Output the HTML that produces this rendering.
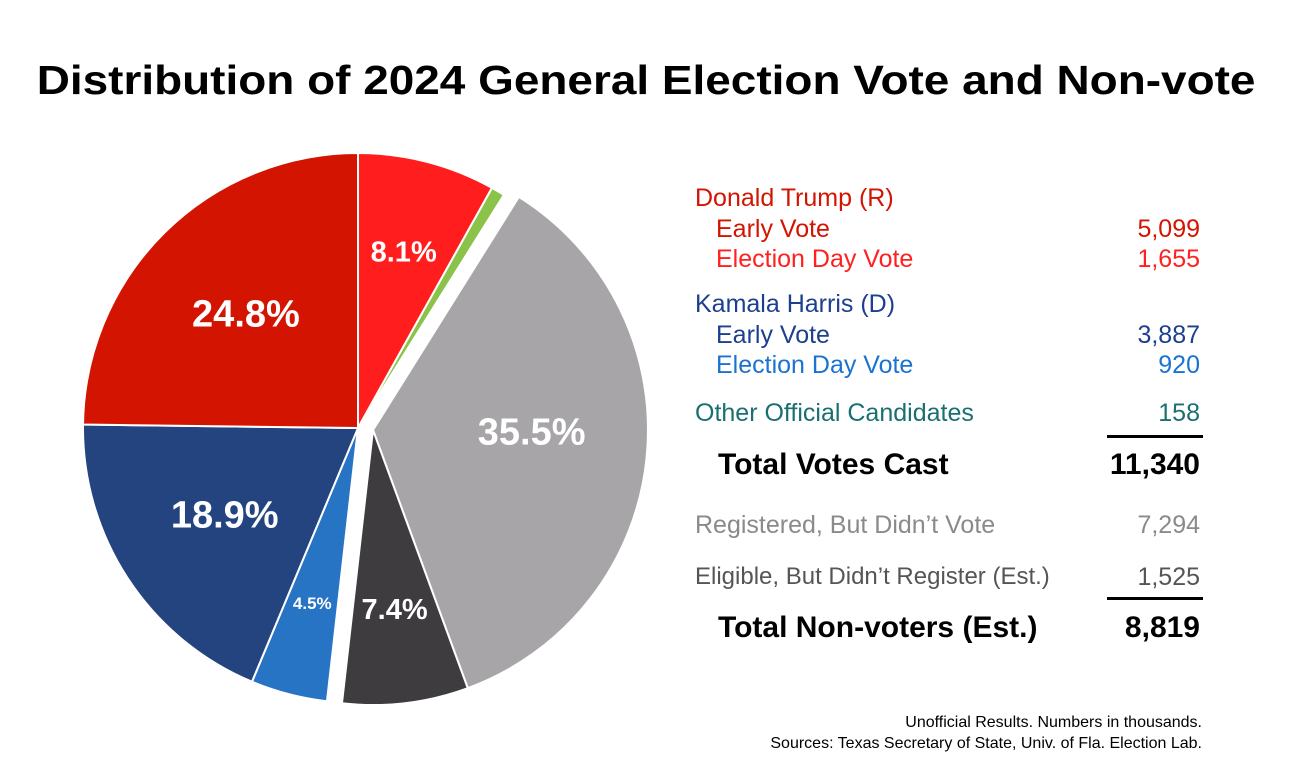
<!DOCTYPE html>
<html><head><meta charset="utf-8">
<style>
body{margin:0;width:1292px;height:775px;background:#fff;overflow:hidden;font-family:"Liberation Sans",sans-serif;position:relative}
.t{position:absolute;white-space:nowrap;line-height:1;font-size:25px}
.r{text-align:right}
.b{font-size:30px;font-weight:bold}
</style></head><body>
<div style="position:absolute;left:0;width:1292px;text-align:center;top:60px;line-height:1"><span style="display:inline-block;transform:scaleX(1.12);font-size:41px;font-weight:bold;color:#000;white-space:nowrap">Distribution of 2024 General Election Vote and Non-vote</span></div>
<svg id="pie" width="1292" height="775" style="position:absolute;left:0;top:0"></svg>
<div>
<div class="t" style="left:695px;top:186px;color:#d31400">Donald Trump (R)</div>
<div class="t" style="left:716px;top:217px;color:#d31400">Early Vote</div>
<div class="t r" style="right:92px;top:217px;color:#d31400">5,099</div>
<div class="t" style="left:716px;top:247px;color:#ff2020">Election Day Vote</div>
<div class="t r" style="right:92px;top:247px;color:#ff2020">1,655</div>
<div class="t" style="left:695px;top:292px;color:#1d3f8f">Kamala Harris (D)</div>
<div class="t" style="left:716px;top:323px;color:#1d3f8f">Early Vote</div>
<div class="t r" style="right:92px;top:323px;color:#1d3f8f">3,887</div>
<div class="t" style="left:716px;top:353px;color:#1a73d0">Election Day Vote</div>
<div class="t r" style="right:92px;top:353px;color:#1a73d0">920</div>
<div class="t" style="left:695px;top:401px;color:#1a7070">Other Official Candidates</div>
<div class="t r" style="right:92px;top:401px;color:#1a7070">158</div>
<div style="position:absolute;left:1107px;top:435px;width:96px;height:3px;background:#000"></div>
<div class="t b" style="left:718px;top:450px">Total Votes Cast</div>
<div class="t r b" style="right:92px;top:450px">11,340</div>
<div class="t" style="left:695px;top:513px;color:#8a8a8a">Registered, But Didn’t Vote</div>
<div class="t r" style="right:92px;top:513px;color:#8a8a8a">7,294</div>
<div class="t" style="left:695px;top:565px;color:#555;font-size:24px">Eligible, But Didn’t Register (Est.)</div>
<div class="t r" style="right:92px;top:565px;color:#555">1,525</div>
<div style="position:absolute;left:1107px;top:597px;width:96px;height:3px;background:#000"></div>
<div class="t b" style="left:718px;top:613px">Total Non-voters (Est.)</div>
<div class="t r b" style="right:92px;top:613px">8,819</div>
</div>
<div class="t r" style="right:90px;top:715px;font-size:16px">Unofficial Results. Numbers in thousands.</div>
<div class="t r" style="right:90px;top:736px;font-size:16px">Sources: Texas Secretary of State, Univ. of Fla. Election Lab.</div>
<script>
const sliceNames=["trump-election-day","other","registered-no-vote","eligible-not-registered","harris-election-day","harris-early","trump-early"];
const sliceValues=[8.1,0.8,35.5,7.4,4.5,18.9,24.8];
const sliceLabels=["8.1%","","35.5%","7.4%","4.5%","18.9%","24.8%"];
const sliceColors=["#ff1d1d","#8bc34a","#a7a5a8","#3e3c3f","#2773c4","#23447f","#d31400"];
const exploded=[false,false,true,true,false,false,false];
const svg=document.getElementById('pie');
const NS='http://www.w3.org/2000/svg';
const cx=358,cy=428,R=275;
const total=sliceValues.reduce((a,b)=>a+b,0);
const ang=v=>v/total*2*Math.PI;
const dx=15,dy=2;
let s=0;
sliceValues.forEach((v,i)=>{
  const a0=s,a1=s+ang(v);s=a1;
  const ox=exploded[i]?dx:0,oy=exploded[i]?dy:0;
  const x=cx+ox,y=cy+oy;
  const p=(a)=>[x+R*Math.sin(a),y-R*Math.cos(a)];
  const [x0,y0]=p(a0),[x1,y1]=p(a1);
  const path=document.createElementNS(NS,'path');
  path.setAttribute('d',`M${x},${y}L${x0},${y0}A${R},${R} 0 ${a1-a0>Math.PI?1:0} 1 ${x1},${y1}Z`);
  path.setAttribute('fill',sliceColors[i]);
  path.setAttribute('stroke','#fff');
  path.setAttribute('stroke-width','2');
  
  
  svg.appendChild(path);
  if(sliceLabels[i]){
    const am=(a0+a1)/2;
    const small=v<6;
    const rr=small?R*0.66:(v<10?R*0.66:R*0.58);
    const t=document.createElementNS(NS,'text');
    t.setAttribute('x',x+rr*Math.sin(am));
    t.setAttribute('y',y-rr*Math.cos(am)-(v>30?14:0));
    t.setAttribute('text-anchor','middle');
    t.setAttribute('dominant-baseline','central');
    t.setAttribute('fill','#fff');
    t.setAttribute('font-weight','bold');
    t.setAttribute('font-size',small?17:(v<10?29:38));
    t.setAttribute('font-family','Liberation Sans, sans-serif');
    t.textContent=sliceLabels[i];
    
    
    svg.appendChild(t);
  }
});
</script>
</body></html>
